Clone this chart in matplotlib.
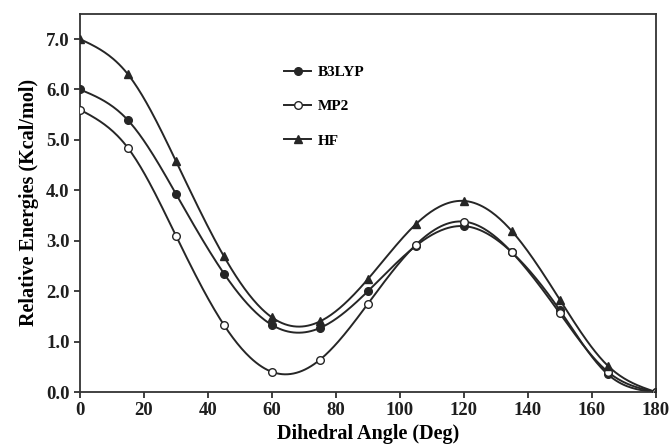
import numpy as np
import matplotlib
matplotlib.use("Agg")
import matplotlib.pyplot as plt

angles = [0, 15, 30, 45, 60, 75, 90, 105, 120, 135, 150, 165, 180]
b3lyp = [6.00, 5.39, 3.93, 2.35, 1.33, 1.27, 2.00, 2.90, 3.29, 2.77, 1.62, 0.35, 0.00]
mp2 = [5.60, 4.84, 3.10, 1.33, 0.40, 0.64, 1.75, 2.92, 3.38, 2.77, 1.56, 0.40, 0.00]
hf = [7.00, 6.30, 4.58, 2.69, 1.48, 1.40, 2.24, 3.33, 3.79, 3.19, 1.83, 0.52, 0.00]

x_ticks = [0, 20, 40, 60, 80, 100, 120, 140, 160, 180]
y_ticks = [0.0, 1.0, 2.0, 3.0, 4.0, 5.0, 6.0, 7.0]


def natural_spline(x, y, n=400):
    # natural cubic spline through the points, only used to draw the smooth line
    x = np.asarray(x, float)
    y = np.asarray(y, float)
    k = len(x)
    h = np.diff(x)
    A = np.zeros((k, k))
    r = np.zeros(k)
    A[0, 0] = A[-1, -1] = 1.0
    for i in range(1, k - 1):
        A[i, i - 1] = h[i - 1]
        A[i, i] = 2 * (h[i - 1] + h[i])
        A[i, i + 1] = h[i]
        r[i] = 6 * ((y[i + 1] - y[i]) / h[i] - (y[i] - y[i - 1]) / h[i - 1])
    m = np.linalg.solve(A, r)
    xs = np.linspace(x[0], x[-1], n)
    idx = np.clip(np.searchsorted(x, xs) - 1, 0, k - 2)
    x0, x1 = x[idx], x[idx + 1]
    hh = x1 - x0
    t0, t1 = x1 - xs, xs - x0
    ys = (m[idx] * t0**3 / (6 * hh) + m[idx + 1] * t1**3 / (6 * hh)
          + (y[idx] / hh - m[idx] * hh / 6) * t0
          + (y[idx + 1] / hh - m[idx + 1] * hh / 6) * t1)
    return xs, ys


plt.rcParams['font.family'] = ['Liberation Serif', 'DejaVu Serif']
plt.rcParams['font.weight'] = 'bold'

fig = plt.figure(figsize=(6.72, 4.46), dpi=100)
ax = fig.add_axes([0.119, 0.121, 0.857, 0.848])

col = '#262626'
series = [('B3LYP', b3lyp, 'o', col), ('MP2', mp2, 'o', 'white'), ('HF', hf, '^', col)]
for name, vals, mk, face in series:
    xs, ys = natural_spline(angles, vals)
    ax.plot(xs, ys, color=col, lw=1.4, zorder=2)
    ax.plot(angles, vals, linestyle='none', marker=mk, ms=5.5,
            markerfacecolor=face, markeredgecolor=col, mew=1.0, zorder=3)
    # legend proxy
    ax.plot([], [], color=col, lw=1.4, marker=mk, ms=5.5,
            markerfacecolor=face, markeredgecolor=col, mew=1.0, label=name)

ax.set_xlim(0, 180)
ax.set_ylim(0, 7.5)
ax.set_xticks(x_ticks)
ax.set_yticks(y_ticks)
ax.set_yticklabels([f'{v:.1f}' for v in y_ticks])
ax.tick_params(direction='out', length=4, width=1.2, labelsize=13.5, colors='#1e1e1e')
for s in ax.spines.values():
    s.set_linewidth(1.3)
    s.set_color('#333333')

ax.set_xlabel('Dihedral Angle (Deg)', fontsize=14.5, fontweight='bold', labelpad=3)
ax.set_ylabel('Relative Energies (Kcal/mol)', fontsize=14.5, fontweight='bold', labelpad=5)

ax.legend(loc='upper left', bbox_to_anchor=(0.33, 0.90), frameon=False,
          fontsize=11, handlelength=1.8, labelspacing=1.35, handletextpad=0.4)

fig.savefig('out.png', dpi=100)
